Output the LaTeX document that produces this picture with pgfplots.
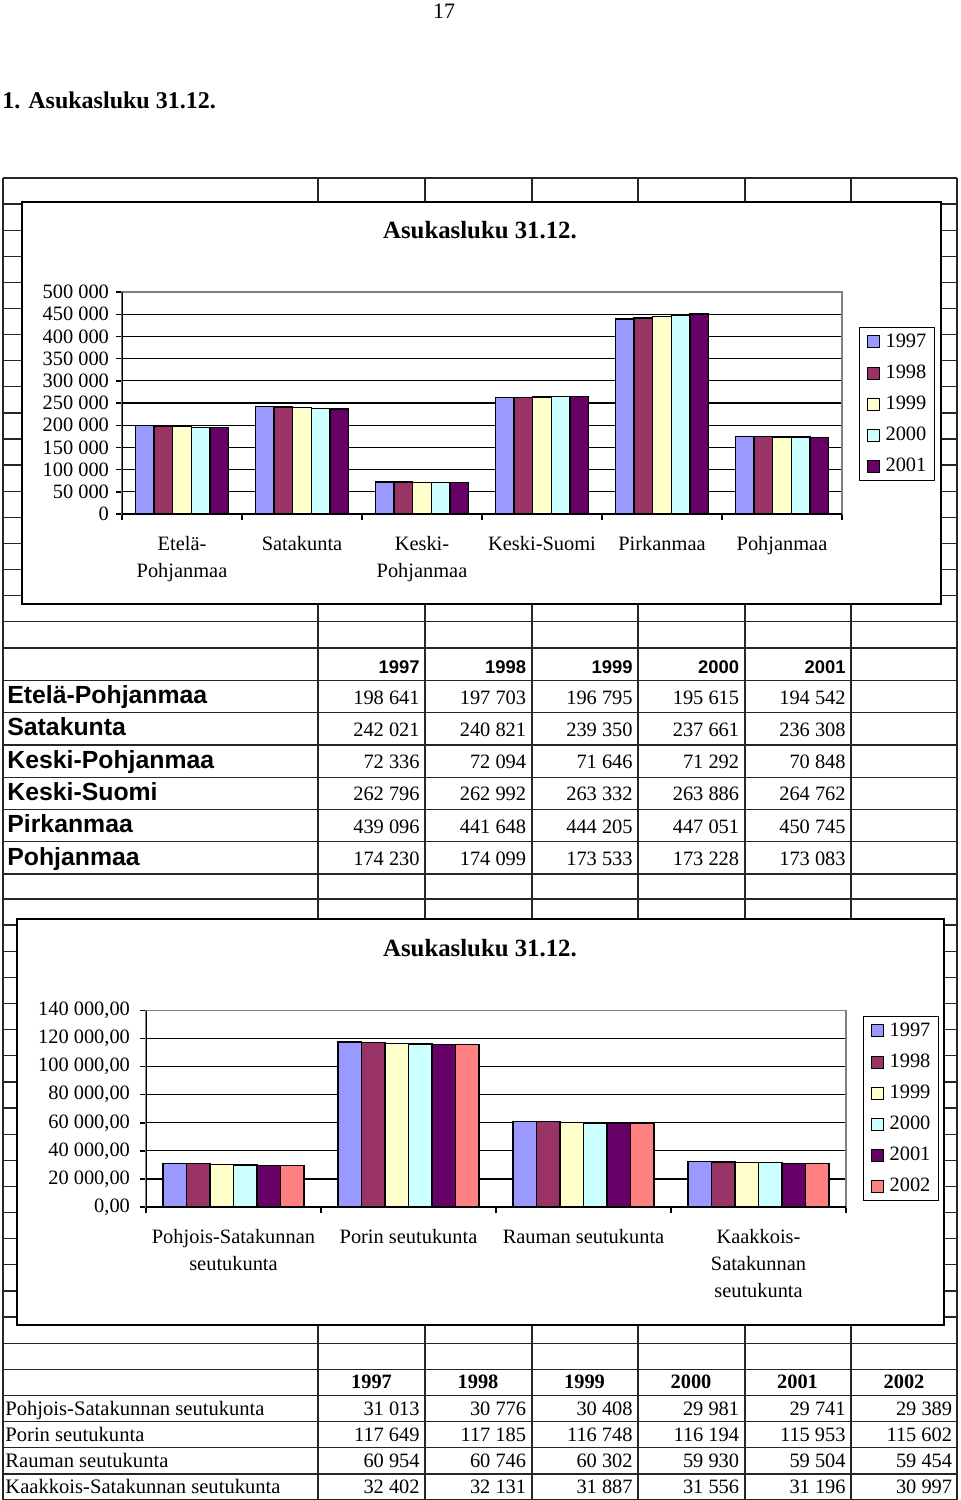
\documentclass[border=0pt]{standalone}
\usepackage{fontspec}
\setmainfont{Liberation Serif}
\newfontfamily\arial{Liberation Sans}
\usepackage{pgfplots}
\pgfplotsset{compat=1.18}

\definecolor{c97}{HTML}{9999FF}
\definecolor{c98}{HTML}{993366}
\definecolor{c99}{HTML}{FFFFCC}
\definecolor{c00}{HTML}{CCFFFF}
\definecolor{c01}{HTML}{660066}
\definecolor{c02}{HTML}{FF8080}

\newcommand\tf{\fontsize{10.2}{13.5}\selectfont}

\pgfplotsset{
  sqlegend/.style={legend image code/.code={\draw[##1,line width=0.5pt] (0pt,-3pt) rectangle (6pt,3pt);}},
  xlchart/.style={
    scale only axis, enlargelimits=false,
    scaled y ticks=false,
    tick pos=left, tick align=outside,
    major tick length=3pt, minor tick length=3pt,
    major x tick style={draw=none},
    minor x tick style={black, line width=0.7pt},
    major y tick style={black, line width=0.7pt},
    ymajorgrids, major grid style={black, line width=0.6pt},
    axis line style={gray, line width=0.6pt},
    tick label style={font=\tf},
    xticklabel style={align=center, yshift=-4.5pt},
    legend cell align=left,
  },
  legst/.style={legend style={at={#1}, anchor=north west, draw=black, line width=0.6pt, fill=white,
    font=\tf, inner xsep=3.5pt, inner ysep=2.5pt, row sep=6.3pt, nodes={inner sep=0.5pt},
    /tikz/every odd column/.append style={column sep=2.5pt}}},
  barst/.style={fill=#1, draw=black, line width=0.65pt, sqlegend},
}

\begin{document}
\begin{tikzpicture}
\path[use as bounding box] (0,0) rectangle (480pt,-750pt);
\begin{scope}[x=0.5pt,y=-0.5pt]
  % spreadsheet grid
  \begin{scope}[line width=0.65pt, black!85]
    \foreach \k in {0,...,17} \draw (3,{178+\k*26.1}) -- (957,{178+\k*26.1});
    \foreach \k in {0,...,7} \draw (3,{648+\k*32.3}) -- (957,{648+\k*32.3});
    \foreach \k in {0,...,23} \draw (3,{899+\k*26.13}) -- (957,{899+\k*26.13});
    \foreach \x in {318,425,532,638,745,851} \draw (\x,178) -- (\x,1500);
    \draw[line width=1.1pt] (3,178) -- (3,1500);
    \draw[line width=1.1pt] (957,178) -- (957,1500);
  \end{scope}
  % chart boxes
  \draw[fill=white, line width=0.8pt] (22,202) rectangle (941,604);
  \draw[fill=white, line width=0.8pt] (17,919) rectangle (944,1325);
  % page texts
  \node[anchor=base, inner sep=0, font=\fontsize{11}{13}\selectfont] at (444,18) {17};
  \node[anchor=base west, inner sep=0, font=\bfseries\fontsize{12}{14}\selectfont] at (2,108) {1. Asukasluku 31.12.};
  \node[anchor=base, inner sep=0, font=\bfseries\fontsize{12.4}{14}\selectfont] at (480,238) {Asukasluku 31.12.};
  \node[anchor=base, inner sep=0, font=\bfseries\fontsize{12.4}{14}\selectfont] at (480,956) {Asukasluku 31.12.};
  % table 1
  \foreach \y [count=\i from 0] in {1997,1998,1999,2000,2001}
    \node[anchor=base east, inner sep=0, font=\arial\bfseries\fontsize{9.2}{11}\selectfont] at ({420+\i*106.5},673) {\y};
  \foreach \nm/\a/\b/\c/\d/\e [count=\r from 0] in {
      Etelä-Pohjanmaa/198 641/197 703/196 795/195 615/194 542,
      Satakunta/242 021/240 821/239 350/237 661/236 308,
      Keski-Pohjanmaa/72 336/72 094/71 646/71 292/70 848,
      Keski-Suomi/262 796/262 992/263 332/263 886/264 762,
      Pirkanmaa/439 096/441 648/444 205/447 051/450 745,
      Pohjanmaa/174 230/174 099/173 533/173 228/173 083} {
    \node[anchor=base west, inner sep=0, font=\arial\bfseries\fontsize{12.4}{14}\selectfont] at (7,{703.5+\r*32.3}) {\nm};
    \node[anchor=base east, inner sep=0, font=\tf] at (420,{704+\r*32.3}) {\a};
    \node[anchor=base east, inner sep=0, font=\tf] at (526.5,{704+\r*32.3}) {\b};
    \node[anchor=base east, inner sep=0, font=\tf] at (633,{704+\r*32.3}) {\c};
    \node[anchor=base east, inner sep=0, font=\tf] at (739.5,{704+\r*32.3}) {\d};
    \node[anchor=base east, inner sep=0, font=\tf] at (846,{704+\r*32.3}) {\e};
  }
  % table 2
  \foreach \y [count=\i from 0] in {1997,1998,1999,2000,2001,2002}
    \node[anchor=base, inner sep=0, font=\bfseries\fontsize{10.2}{12}\selectfont] at ({371.5+\i*106.5},1388) {\y};
  \foreach \nm/\a/\b/\c/\d/\e/\f [count=\r from 0] in {
      Pohjois-Satakunnan seutukunta/31 013/30 776/30 408/29 981/29 741/29 389,
      Porin seutukunta/117 649/117 185/116 748/116 194/115 953/115 602,
      Rauman seutukunta/60 954/60 746/60 302/59 930/59 504/59 454,
      Kaakkois-Satakunnan seutukunta/32 402/32 131/31 887/31 556/31 196/30 997} {
    \node[anchor=base west, inner sep=0, font=\fontsize{10.3}{12}\selectfont] at (5,{1415+\r*26.13}) {\nm};
    \node[anchor=base east, inner sep=0, font=\tf] at (420,{1415+\r*26.13}) {\a};
    \node[anchor=base east, inner sep=0, font=\tf] at (526.5,{1415+\r*26.13}) {\b};
    \node[anchor=base east, inner sep=0, font=\tf] at (633,{1415+\r*26.13}) {\c};
    \node[anchor=base east, inner sep=0, font=\tf] at (739.5,{1415+\r*26.13}) {\d};
    \node[anchor=base east, inner sep=0, font=\tf] at (846,{1415+\r*26.13}) {\e};
    \node[anchor=base east, inner sep=0, font=\tf] at (952.5,{1415+\r*26.13}) {\f};
  }
\end{scope}

% chart 1
\begin{axis}[xlchart,
  at={(61pt,-257pt)}, anchor=south west,
  width=360pt, height=111pt,
  xmin=-0.5, xmax=5.5, ymin=0, ymax=500000,
  ybar=0pt, bar width=9.3pt,
  xtick={0,...,5},
  xticklabels={{Etelä-\\Pohjanmaa},Satakunta,{Keski-\\Pohjanmaa},Keski-Suomi,Pirkanmaa,Pohjanmaa},
  minor xtick={-0.5,0.5,...,5.5},
  ytick={0,50000,...,500000},
  yticklabels={0,50 000,100 000,150 000,200 000,250 000,300 000,350 000,400 000,450 000,500 000},
  legst={(1.0236,0.842)},
]
\addplot[barst=c97] coordinates {(0,198641) (1,242021) (2,72336) (3,262796) (4,439096) (5,174230)};
\addplot[barst=c98] coordinates {(0,197703) (1,240821) (2,72094) (3,262992) (4,441648) (5,174099)};
\addplot[barst=c99] coordinates {(0,196795) (1,239350) (2,71646) (3,263332) (4,444205) (5,173533)};
\addplot[barst=c00] coordinates {(0,195615) (1,237661) (2,71292) (3,263886) (4,447051) (5,173228)};
\addplot[barst=c01] coordinates {(0,194542) (1,236308) (2,70848) (3,264762) (4,450745) (5,173083)};
\legend{1997,1998,1999,2000,2001}
\draw[black, line width=0.8pt] (rel axis cs:0,1) -- (rel axis cs:0,0) -- (rel axis cs:1,0);
\end{axis}

% chart 2
\begin{axis}[xlchart,
  at={(73pt,-603.5pt)}, anchor=south west,
  width=350pt, height=98.25pt,
  xmin=-0.5, xmax=3.5, ymin=0, ymax=140000,
  ybar=0pt, bar width=11.75pt,
  xtick={0,...,3},
  xticklabels={{Pohjois-Satakunnan\\seutukunta},Porin seutukunta,Rauman seutukunta,{Kaakkois-\\Satakunnan\\seutukunta}},
  minor xtick={-0.5,0.5,...,3.5},
  ytick={0,20000,...,140000},
  yticklabels={{0,00},{20 000,00},{40 000,00},{60 000,00},{80 000,00},{100 000,00},{120 000,00},{140 000,00}},
  yticklabel style={xshift=-1.5pt},
  legst={(1.0243,0.972)},
]
\addplot[barst=c97] coordinates {(0,31013) (1,117649) (2,60954) (3,32402)};
\addplot[barst=c98] coordinates {(0,30776) (1,117185) (2,60746) (3,32131)};
\addplot[barst=c99] coordinates {(0,30408) (1,116748) (2,60302) (3,31887)};
\addplot[barst=c00] coordinates {(0,29981) (1,116194) (2,59930) (3,31556)};
\addplot[barst=c01] coordinates {(0,29741) (1,115953) (2,59504) (3,31196)};
\addplot[barst=c02] coordinates {(0,29389) (1,115602) (2,59454) (3,30997)};
\legend{1997,1998,1999,2000,2001,2002}
\draw[black, line width=0.8pt] (rel axis cs:0,1) -- (rel axis cs:0,0) -- (rel axis cs:1,0);
\end{axis}
\end{tikzpicture}
\end{document}
